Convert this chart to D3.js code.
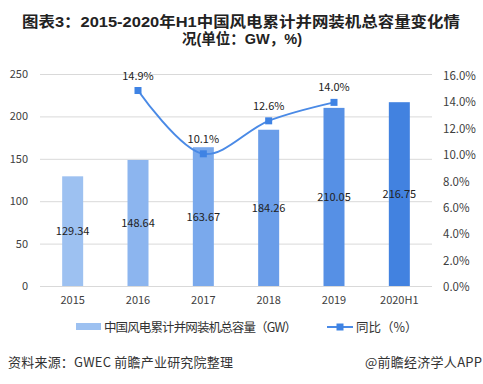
<!DOCTYPE html>
<html lang="en">
<head>
<meta charset="utf-8">
<script src="https://cdnjs.cloudflare.com/ajax/libs/d3/7.8.5/d3.min.js"></script>
<style>
	body{ margin:0; background:#fff; }
	svg{ display:block; font-family:"Microsoft YaHei","Noto Sans CJK SC",sans-serif; }
</style>
</head>
<body>
<svg width="483" height="384"></svg>
<script>
	const years = ["2015", "2016", "2017", "2018", "2019", "2020H1"];
	const capacity = [129.34, 148.64, 163.67, 184.26, 210.05, 216.75];
	const growth = [null, 14.9, 10.1, 12.6, 14.0, null];
	const leftTicks = [0, 50, 100, 150, 200, 250];
	const rightTicks = [0, 2, 4, 6, 8, 10, 12, 14, 16];
	const barColors = ["#9dc1f1", "#8cb5ef", "#7aa9ec", "#6a9de9", "#5690e5", "#4282e0"];

	const svg = d3.select("svg");
	const m = {left: 40, right: 432, top: 74, bottom: 286};

	const x = d3.scaleBand().domain(years).range([m.left, m.right]);
	const yL = d3.scaleLinear().domain([0, 250]).range([m.bottom, m.top]);
	const yR = d3.scaleLinear().domain([0, 16]).range([m.bottom + 1, m.top + 2]);

	// title, two lines
	svg.append("text")
		.attr("x", 241).attr("y", 27)
		.attr("text-anchor", "middle")
		.attr("font-family", "'Liberation Sans','Noto Sans CJK SC',sans-serif")
		.attr("font-weight", "bold").attr("font-size", "14.5px").attr("fill", "#222")
		.attr("textLength", 438).attr("lengthAdjust", "spacingAndGlyphs")
		.text("图表3：2015-2020年H1中国风电累计并网装机总容量变化情");
	svg.append("text")
		.attr("x", 242).attr("y", 44)
		.attr("text-anchor", "middle")
		.attr("font-family", "'Liberation Sans','Noto Sans CJK SC',sans-serif")
		.attr("font-weight", "bold").attr("font-size", "14.5px").attr("fill", "#222")
		.text("况(单位：GW，%)");

	// grid
	svg.append("g").selectAll("line")
		.data(leftTicks)
		.join("line")
		.attr("x1", m.left).attr("x2", m.right)
		.attr("y1", d => yL(d) + 0.5).attr("y2", d => yL(d) + 0.5)
		.attr("stroke", "#d9d9d9");

	// left axis labels
	svg.append("g").selectAll("text")
		.data(leftTicks)
		.join("text")
		.attr("x", 28).attr("y", d => yL(d) + 4)
		.attr("text-anchor", "end")
		.attr("font-size", "11px").attr("fill", "#404040")
		.text(d => d);

	// right axis labels
	svg.append("g").selectAll("text")
		.data(rightTicks)
		.join("text")
		.attr("x", 443).attr("y", d => yR(d) + 4)
		.attr("font-size", "11.5px").attr("fill", "#404040")
		.text(d => d.toFixed(1) + "%");

	// x labels
	svg.append("g").selectAll("text")
		.data(years)
		.join("text")
		.attr("x", d => x(d) + x.bandwidth() / 2).attr("y", 304)
		.attr("text-anchor", "middle")
		.attr("font-size", "11px").attr("fill", "#404040")
		.text(d => d);

	// bars
	const bw = 21;
	svg.append("g").selectAll("rect")
		.data(capacity)
		.join("rect")
		.attr("x", (d, i) => x(years[i]) + x.bandwidth() / 2 - bw / 2)
		.attr("width", bw)
		.attr("y", d => yL(d))
		.attr("height", d => m.bottom - yL(d))
		.attr("fill", (d, i) => barColors[i]);

	svg.append("g").selectAll("text")
		.data(capacity)
		.join("text")
		.attr("x", (d, i) => x(years[i]) + x.bandwidth() / 2)
		.attr("y", d => (yL(d) + m.bottom) / 2 + 4)
		.attr("text-anchor", "middle")
		.attr("font-size", "11px").attr("fill", "#222")
		.text(d => d.toFixed(2));

	// growth line
	const pts = growth.map((g, i) => ({k: years[i], v: g})).filter(p => p.v !== null);
	const line = d3.line()
		.x(p => x(p.k) + x.bandwidth() / 2)
		.y(p => yR(p.v))
		.curve(d3.curveCatmullRom.alpha(0.5));
	svg.append("path")
		.datum(pts)
		.attr("d", line)
		.attr("fill", "none")
		.attr("stroke", "#4a8ae6")
		.attr("stroke-width", 2);

	svg.append("g").selectAll("rect")
		.data(pts)
		.join("rect")
		.attr("x", p => x(p.k) + x.bandwidth() / 2 - 3.5)
		.attr("y", p => yR(p.v) - 3.5)
		.attr("width", 7).attr("height", 7)
		.attr("fill", "#3f83e4");

	svg.append("g").selectAll("text")
		.data(pts)
		.join("text")
		.attr("x", p => x(p.k) + x.bandwidth() / 2)
		.attr("y", p => yR(p.v) - 11)
		.attr("text-anchor", "middle")
		.attr("font-size", "11px").attr("fill", "#222")
		.text(p => p.v.toFixed(1) + "%");

	// legend
	svg.append("rect").attr("x", 76).attr("y", 323).attr("width", 25).attr("height", 7).attr("fill", barColors[0]);
	svg.append("text").attr("x", 104).attr("y", 331.5).attr("font-size", "12.5px").attr("fill", "#333")
		.attr("textLength", 193)
		.text("中国风电累计并网装机总容量（GW）");
	svg.append("line").attr("x1", 327).attr("x2", 353).attr("y1", 327).attr("y2", 327)
		.attr("stroke", "#4a8ae6").attr("stroke-width", 2);
	svg.append("rect").attr("x", 336.5).attr("y", 323.5).attr("width", 7).attr("height", 7).attr("fill", "#3f83e4");
	svg.append("text").attr("x", 356).attr("y", 331.5).attr("font-size", "12.5px").attr("fill", "#333")
		.text("同比（%）");

	// source
	svg.append("text").attr("x", 8).attr("y", 367).attr("font-size", "13px").attr("fill", "#333")
		.attr("textLength", 225)
		.text("资料来源：GWEC 前瞻产业研究院整理");
	svg.append("text").attr("x", 365).attr("y", 367).attr("font-size", "13px").attr("fill", "#333")
		.attr("textLength", 117)
		.text("@前瞻经济学人APP");
</script>
</body>
</html>
